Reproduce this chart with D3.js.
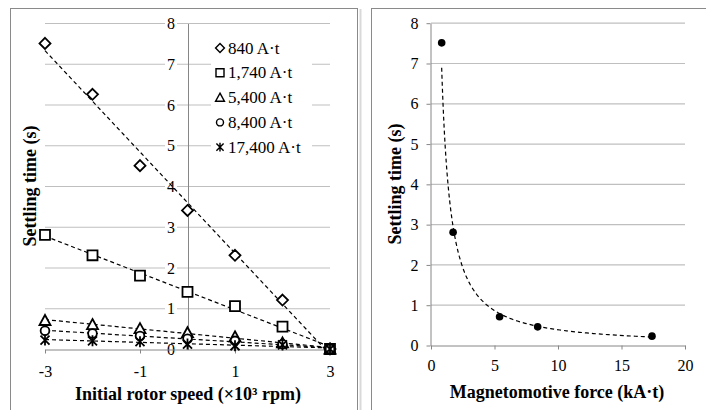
<!DOCTYPE html>
<html>
<head>
<meta charset="utf-8">
<script src="https://cdn.jsdelivr.net/npm/d3@7"></script>
<style>
body{margin:0;background:#fff}
svg{display:block}
</style>
</head>
<body>
<div id="chart"></div>
<script>
// 左图：初始转速 (x10^3 rpm)
var speeds=[-3,-2,-1,0,1,2,3];
// 各磁动势下的稳定时间 (s)
var t840=[7.5,6.25,4.5,3.4,2.3,1.2,0];
var t1740=[2.8,2.3,1.8,1.4,1.05,0.55,0];
var t5400=[0.7,0.6,0.5,0.4,0.3,0.15,0];
var t8400=[0.45,0.38,0.32,0.25,0.2,0.12,0];
var t17400=[0.22,0.2,0.18,0.12,0.08,0.1,0];
var seriesNames=["840 A·t","1,740 A·t","5,400 A·t","8,400 A·t","17,400 A·t"];
// 右图：磁动势 (kA·t) 与稳定时间 (s)
var mmf=[0.84,1.74,5.4,8.4,17.4];
var settle=[7.5,2.8,0.7,0.45,0.22];
// 刻度
var yTicks=[0,1,2,3,4,5,6,7,8];
var xTicksL=[-3,-1,1,3];
var xTicksR=[0,5,10,15,20];

var W=706,H=410;
var FONT="Liberation Serif, DejaVu Serif, serif";
var gridColor="#bfbfbf",axisColor="#868686",frameColor="#8a8a8a";

var svg=d3.select("#chart").append("svg")
    .attr("width",W)
    .attr("height",H)
    .attr("font-family",FONT);

/*外框*/
svg.append("rect").attr("x",10.5).attr("y",8.5).attr("width",347).attr("height",430)
    .attr("fill","none").attr("stroke",frameColor);
svg.append("line").attr("x1",360.5).attr("x2",360.5).attr("y1",9).attr("y2",H)
    .attr("stroke","#d9d9d9").attr("stroke-width",2);
svg.append("rect").attr("x",371.5).attr("y",8.5).attr("width",400).attr("height",430)
    .attr("fill","none").attr("stroke",frameColor);

/*标记形状*/
function markerPath(k){
    if(k==0) return "M0,-5.5L5.5,0L0,5.5L-5.5,0Z";
    if(k==1) return "M-5,-5H5V5H-5Z";
    if(k==2) return "M0,-5.5L5.5,4.5H-5.5Z";
    if(k==3) return d3.symbol(d3.symbolCircle,60)();
    return "M-4.5,-4.5L4.5,4.5M4.5,-4.5L-4.5,4.5M0,-5.5V5.5";
}

/*线性拟合*/
function linFit(xs,ys){
    var mx=d3.mean(xs),my=d3.mean(ys),sxy=0,sxx=0;
    xs.forEach(function(x,i){sxy+=(x-mx)*(ys[i]-my);sxx+=(x-mx)*(x-mx);});
    var b=sxy/sxx;
    return function(x){return my+b*(x-mx);};
}
/*幂函数拟合*/
function powFit(xs,ys){
    var lx=xs.map(Math.log),ly=ys.map(Math.log);
    var f=linFit(lx,ly);
    return function(x){return Math.exp(f(Math.log(x)));};
}
function styleText(sel,size){
    sel.attr("font-size",size).attr("font-family",FONT).attr("fill","#000");
}

/* ---------- 左图 ---------- */
var xL=d3.scaleLinear().domain([-3,3]).range([45,330]);
var yL=d3.scaleLinear().domain([0,8]).range([349,23]);
var gL=svg.append("g");

gL.append("g").selectAll("line").data(yTicks.slice(1)).enter().append("line")
    .attr("x1",xL(-3)).attr("x2",xL(3))
    .attr("y1",function(d){return yL(d)+0.5;}).attr("y2",function(d){return yL(d)+0.5;})
    .attr("stroke",gridColor).attr("stroke-width",1.2);

var yAxisL=gL.append("g").attr("transform","translate("+(xL(0)+0.5)+",0.5)")
    .call(d3.axisLeft(yL).tickValues(yTicks).tickSize(0).tickPadding(13).tickFormat(function(d){return String(d);}));
yAxisL.attr("font-family",FONT);
yAxisL.select(".domain").attr("stroke",axisColor);
styleText(yAxisL.selectAll("text"),16);
yAxisL.selectAll(".tick").each(function(){
    var t=d3.select(this).select("text"),bb=t.node().getBBox();
    d3.select(this).insert("rect","text").attr("x",bb.x-2).attr("y",bb.y+2)
        .attr("width",bb.width+4).attr("height",bb.height-4).attr("fill","#fff");
});

var xAxisL=gL.append("g").attr("transform","translate(0,"+(yL(0)+0.5)+")")
    .call(d3.axisBottom(xL).tickValues(xTicksL).tickSizeInner(4).tickSizeOuter(0).tickPadding(12).tickFormat(function(d){return String(d);}));
xAxisL.attr("font-family",FONT);
xAxisL.select(".domain").attr("stroke",axisColor);
xAxisL.selectAll("line").attr("stroke",axisColor);
styleText(xAxisL.selectAll("text"),16);

var seriesL=[t840,t1740,t5400,t8400,t17400];
seriesL.forEach(function(vals){
    var f=linFit(speeds,vals);
    gL.append("line")
        .attr("x1",xL(-3)).attr("y1",yL(f(-3)))
        .attr("x2",xL(3)).attr("y2",yL(f(3)))
        .attr("stroke","#000").attr("stroke-width",1.2).attr("stroke-dasharray","4,3");
});
seriesL.forEach(function(vals,k){
    gL.append("g").selectAll("path").data(vals).enter().append("path")
        .attr("d",markerPath(k))
        .attr("transform",function(d,i){return "translate("+xL(speeds[i])+","+yL(d)+")";})
        .attr("fill",k==4?"none":"#fff").attr("stroke","#000").attr("stroke-width",1.8);
});

/*图例*/
var leg=gL.append("g");
leg.append("rect").attr("x",211).attr("y",34).attr("width",101).attr("height",124).attr("fill","#fff");
seriesNames.forEach(function(name,k){
    var y=48+k*24.8;
    leg.append("path").attr("d",markerPath(k))
        .attr("transform","translate(220,"+y+") scale(0.8)")
        .attr("fill",k==4?"none":"#fff").attr("stroke","#000").attr("stroke-width",1.8);
    styleText(leg.append("text").attr("x",228).attr("y",y+5.5).text(name),17);
});

styleText(gL.append("text").attr("transform","translate(36,186) rotate(-90)")
    .attr("text-anchor","middle").attr("font-weight","bold")
    .text("Settling time (s)"),18);
styleText(gL.append("text").attr("x",188).attr("y",400)
    .attr("text-anchor","middle").attr("font-weight","bold")
    .text("Initial rotor speed (×10³ rpm)"),18);

/* ---------- 右图 ---------- */
var xR=d3.scaleLinear().domain([0,20]).range([431,685]);
var yR=d3.scaleLinear().domain([0,8]).range([345,22.7]);
var gR=svg.append("g");

gR.append("g").selectAll("line").data(yTicks.slice(1)).enter().append("line")
    .attr("x1",xR(0)).attr("x2",xR(20))
    .attr("y1",function(d){return yR(d)+0.5;}).attr("y2",function(d){return yR(d)+0.5;})
    .attr("stroke",gridColor).attr("stroke-width",1.2);

var yAxisR=gR.append("g").attr("transform","translate("+(xR(0)-0.5)+",0.5)")
    .call(d3.axisLeft(yR).tickValues(yTicks).tickSizeInner(4).tickSizeOuter(0).tickPadding(8).tickFormat(function(d){return String(d);}));
yAxisR.attr("font-family",FONT);
yAxisR.select(".domain").attr("stroke",axisColor);
yAxisR.selectAll("line").attr("stroke",axisColor);
styleText(yAxisR.selectAll("text"),16);

var xAxisR=gR.append("g").attr("transform","translate(0,"+(yR(0)+0.5)+")")
    .call(d3.axisBottom(xR).tickValues(xTicksR).tickSizeInner(4).tickSizeOuter(0).tickPadding(10).tickFormat(function(d){return String(d);}));
xAxisR.attr("font-family",FONT);
xAxisR.select(".domain").attr("stroke",axisColor);
xAxisR.selectAll("line").attr("stroke",axisColor);
styleText(xAxisR.selectAll("text"),16);

var pf=powFit(mmf,settle);
var x0=d3.min(mmf),x1=d3.max(mmf);
var curveX=d3.range(0,101).map(function(i){return x0+(x1-x0)*Math.pow(i/100,2);});
gR.append("path")
    .attr("d",d3.line().x(function(d){return xR(d);}).y(function(d){return yR(pf(d));})(curveX))
    .attr("fill","none").attr("stroke","#000").attr("stroke-width",1.2).attr("stroke-dasharray","4,3");

gR.append("g").selectAll("circle").data(settle).enter().append("circle")
    .attr("cx",function(d,i){return xR(mmf[i]);}).attr("cy",function(d){return yR(d);})
    .attr("r",3.8).attr("fill","#000");

styleText(gR.append("text").attr("transform","translate(401,184) rotate(-90)")
    .attr("text-anchor","middle").attr("font-weight","bold")
    .text("Settling time (s)"),18);
styleText(gR.append("text").attr("x",557).attr("y",398)
    .attr("text-anchor","middle").attr("font-weight","bold")
    .text("Magnetomotive force (kA·t)"),18);
</script>
</body>
</html>
